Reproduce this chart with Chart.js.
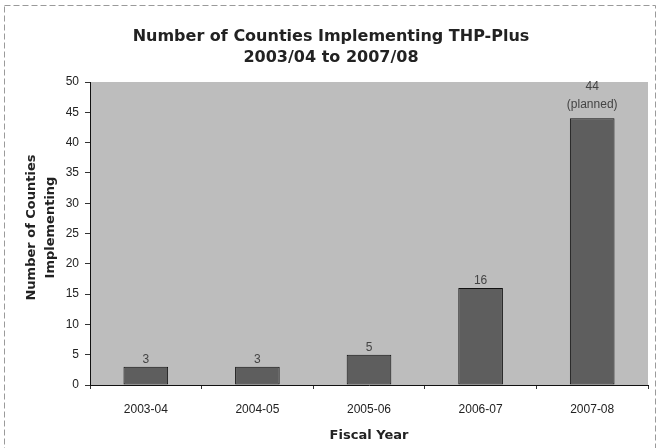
<!DOCTYPE html>
<html>
<head>
<meta charset="utf-8">
<script src="https://cdn.jsdelivr.net/npm/chart.js@4.4.0/dist/chart.umd.min.js"></script>
<style>
  html, body { margin: 0; padding: 0; background: #fff; }
  #wrap { width: 660px; height: 448px; }
</style>
</head>
<body>
<div id="wrap"><canvas id="c" width="660" height="448"></canvas></div>
<script>
// 데이터
const years = ['2003-04', '2004-05', '2005-06', '2006-07', '2007-08'];
const counties = [3, 3, 5, 16, 44];
const notes = ['', '', '', '', '(planned)'];
const yTicks = [0, 5, 10, 15, 20, 25, 30, 35, 40, 45, 50];

const titleLines = ['Number of Counties Implementing THP-Plus', '2003/04 to 2007/08'];
const yTitleLines = ['Number of Counties', 'Implementing'];
const xTitle = 'Fiscal Year';

// 배경, 테두리, 제목, 값 라벨
const decor = {
    id: 'decor',
    beforeDraw(chart) {
        const { ctx, chartArea: a } = chart;
        ctx.save();
        ctx.fillStyle = '#fff';
        ctx.fillRect(0, 0, chart.width, chart.height);
        ctx.strokeStyle = '#9a9a9a';
        ctx.setLineDash([6, 3]);
        ctx.lineWidth = 1;
        ctx.strokeRect(4.5, 5.5, chart.width - 9, chart.height - 2);
        ctx.setLineDash([]);
        ctx.fillStyle = '#bdbdbd';
        ctx.fillRect(a.left, a.top, a.right - a.left, a.bottom - a.top);
        ctx.restore();
    },
    afterDraw(chart) {
        const { ctx, chartArea: a } = chart;
        ctx.save();
        ctx.fillStyle = '#222';
        ctx.textAlign = 'center';
        ctx.textBaseline = 'middle';
        ctx.font = 'bold 16px "DejaVu Sans", Verdana, sans-serif';
        ctx.fillText(titleLines[0], 331, 37);
        ctx.fillText(titleLines[1], 331, 58);

        ctx.font = 'bold 13px "DejaVu Sans", Verdana, sans-serif';
        ctx.fillText(xTitle, (a.left + a.right) / 2, 436);

        ctx.save();
        ctx.translate(32, (a.top + a.bottom) / 2 - 6);
        ctx.rotate(-Math.PI / 2);
        ctx.fillText(yTitleLines[0], 0, 0);
        ctx.fillText(yTitleLines[1], 0, 19);
        ctx.restore();

        // 값 라벨
        const meta = chart.getDatasetMeta(0);
        ctx.font = '12px "Liberation Sans", Arial, sans-serif';
        ctx.fillStyle = '#444';
        ctx.textBaseline = 'alphabetic';
        meta.data.forEach((bar, i) => {
            if (notes[i]) {
                ctx.fillText(notes[i], bar.x, bar.y - 10);
                ctx.fillText(String(counties[i]), bar.x, bar.y - 28);
            } else {
                ctx.fillText(String(counties[i]), bar.x, bar.y - 4);
            }
        });
        ctx.restore();
    }
};

new Chart(document.getElementById('c'), {
    type: 'bar',
    data: {
        labels: years,
        datasets: [{
            data: counties,
            backgroundColor: '#5e5e5e',
            borderColor: '#111',
            borderWidth: 1,
            borderSkipped: false,
            barPercentage: 0.8,
            categoryPercentage: 0.5
        }]
    },
    options: {
        responsive: false,
        animation: false,
        devicePixelRatio: 1,
        layout: { padding: { top: 82, right: 12, left: 0, bottom: 0 } },
        plugins: {
            legend: { display: false },
            title: { display: false },
            tooltip: { enabled: false }
        },
        scales: {
            x: {
                grid: { display: true, drawOnChartArea: false, tickLength: 4, color: '#333', offset: true },
                border: { color: '#111', width: 1 },
                ticks: { color: '#222', padding: 13, font: { family: '"Liberation Sans", Arial, sans-serif', size: 12 } },
                afterFit(s) { s.height = 63; }
            },
            y: {
                min: 0,
                max: 50,
                afterBuildTicks(s) { s.ticks = yTicks.map(v => ({ value: v })); },
                grid: { display: true, drawOnChartArea: false, tickLength: 5, color: '#333' },
                border: { color: '#111', width: 1 },
                ticks: { color: '#222', padding: 6, font: { family: '"Liberation Sans", Arial, sans-serif', size: 12 } },
                afterFit(s) { s.width = 90; }
            }
        }
    },
    plugins: [decor]
});
</script>
</body>
</html>
